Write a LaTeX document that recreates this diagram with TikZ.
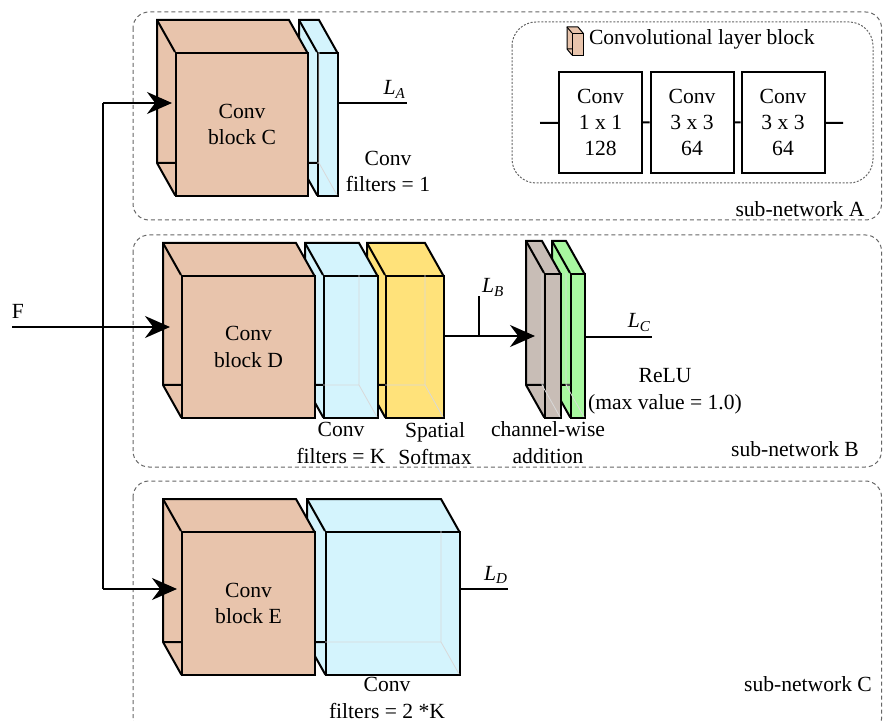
\documentclass[tikz,border=0pt]{standalone}
\usepackage{fontspec}
\setmainfont{Liberation Serif}
\usetikzlibrary{arrows.meta}

\definecolor{blockorange}{RGB}{232,196,172}
\definecolor{convblue}{RGB}{212,244,253}
\definecolor{softyellow}{RGB}{255,226,122}
\definecolor{addgray}{RGB}{200,189,182}
\definecolor{relugreen}{RGB}{168,248,160}

\newcommand{\loss}[1]{\textit{L}\textsubscript{\textit{#1}}}
\newcommand{\cdx}{18}
\newcommand{\cdy}{32}
% #1 name, #2 fill, #3 hidden edges, #4--#7 front face x1,y1,x2,y2, #8 text
\newcommand{\cuboid}[8]{%
  \filldraw[fill=#2] (#4-\cdx,#5-\cdy) -- (#6-\cdx,#5-\cdy) -- (#6,#5) -- (#6,#7)
    -- (#4,#7) -- (#4-\cdx,#7-\cdy) -- cycle;
  \draw (#4-\cdx,#5-\cdy) -- (#4,#5) (#4-\cdx,#7-\cdy) -- (#4,#7-\cdy);
  \node[draw, fill=#2, anchor=north west, inner sep=0pt, align=center,
    minimum width={(#6-#4)*0.5pt}, minimum height={(#7-#5)*0.5pt}] (#1) at (#4,#5) {#8};
  \draw[#3, line width=0.4pt] (#4,#7-\cdy) -- (#6-\cdx,#7-\cdy) -- (#6-\cdx,#5)
    (#6-\cdx,#7-\cdy) -- (#6,#7);
}

\begin{document}
\begin{tikzpicture}[x=0.5pt, y=-0.5pt, line width=1pt,
  font=\fontsize{10.8}{13.2}\selectfont,
  subnet/.style={draw=black!60, line width=0.5pt, dash pattern=on 2pt off 1.5pt, rounded corners=8pt},
  legendbox/.style={draw=black!60, line width=0.5pt, dash pattern=on 1pt off 0.8pt, rounded corners=12pt},
  flow/.style={-{Stealth[length=12.5pt, width=11pt]}},
  lbl/.style={inner sep=0pt, align=center},
  layer/.style={draw, fill=white, inner sep=0pt, align=center, minimum width=41.5pt, minimum height=50.5pt}]
\useasboundingbox (0,0) rectangle (883,721);

% sub-networks
\draw[subnet] (133,12) rectangle (881.5,220);
\draw[subnet] (133,235) rectangle (881.5,467);
\draw[subnet] (133,481) rectangle (881.5,735);
\node[lbl, anchor=base] (subA) at (800,217) {sub-network A};
\node[lbl, anchor=base] (subB) at (795,456) {sub-network B};
\node[lbl, anchor=base] (subC) at (808,691) {sub-network C};

% legend
\draw[legendbox] (512,22) rectangle (873,183);
\begin{scope}[line width=0.5pt]
\renewcommand{\cdx}{5}\renewcommand{\cdy}{6}
\cuboid{icon}{blockorange}{draw=none}{572}{33}{583}{55}{}
\end{scope}
\node[lbl, anchor=base west] (legend) at (588,45) {Convolutional layer block};
\node[layer] (k1) at (600.5,122.5) {Conv\\1 x 1\\128};
\node[layer] (k2) at (692,122.5) {Conv\\3 x 3\\64};
\node[layer] (k3) at (783,122.5) {Conv\\3 x 3\\64};
\coordinate (lin) at (540,123);
\coordinate (lout) at (843,123);
\draw (lin) -- (k1) -- (k2) -- (k3) -- (lout);

% sub-network A
\cuboid{slabC}{convblue}{black!15}{317}{52}{337}{195}{}
\cuboid{blkC}{blockorange}{draw=none}{175}{52}{307}{195}{Conv\\block C}

% sub-network B
\cuboid{smax}{softyellow}{black!15}{385}{275}{443}{417}{}
\cuboid{slabD}{convblue}{black!15}{323}{275}{377}{417}{}
\cuboid{blkD}{blockorange}{draw=none}{181}{275}{314}{417}{Conv\\block D}
\cuboid{relu}{relugreen}{black!15}{570}{273}{584}{417}{}
\cuboid{add}{addgray}{black!15}{544}{273}{560}{417}{}

% sub-network C
\cuboid{slabE}{convblue}{black!15}{325}{531}{459}{674}{}
\cuboid{blkE}{blockorange}{draw=none}{181}{531}{314}{674}{Conv\\block E}

% input
\coordinate (in) at (12,327);
\coordinate (jC) at (103,103);
\coordinate (jE) at (103,589);
\node[lbl, anchor=base] (F) at (18,319) {F};
\draw (jC) -- (jE);
\draw[flow, shorten >=5.5pt] (in) -- (in -| blkD.west);
\draw[flow, shorten >=1.5pt] (jC) -- (jC -| blkC.west);
\draw[flow, shorten >=2pt] (jE) -- (jE -| blkE.west);

% outputs
\coordinate (oA) at (407,103);
\draw (oA -| slabC.east) -- (oA);
\node[lbl, anchor=base east] (LA) at (407,95) {\loss{A}};
\coordinate (jB) at (479,336);
\coordinate (tB) at (479,296);
\coordinate (addin) at (535,336);
\draw[flow] (jB -| smax.east) -- (addin);
\draw (jB) -- (tB);
\node[lbl, anchor=base west] (LB) at (481,293) {\loss{B}};
\coordinate (oC) at (652,337);
\draw (oC -| relu.east) -- (oC);
\node[lbl, anchor=base east] (LC) at (652,328) {\loss{C}};
\coordinate (oD) at (508,589);
\draw (oD -| slabE.east) -- (oD);
\node[lbl, anchor=base east] (LD) at (509,580) {\loss{D}};

% captions (base = last line)
\node[lbl, anchor=base] (capC) at (388,192) {Conv\\filters = 1};
\node[lbl, anchor=base] (capD) at (341,463) {Conv\\filters = K};
\node[lbl, anchor=base] (capS) at (435,464) {Spatial\\Softmax};
\node[lbl, anchor=base] (capA) at (548,463) {channel-wise\\addition};
\node[lbl, anchor=base] (capR) at (665,409) {ReLU\\(max value = 1.0)};
\node[lbl, anchor=base] (capE) at (387,718) {Conv\\filters = 2 *K};
\end{tikzpicture}
\end{document}
